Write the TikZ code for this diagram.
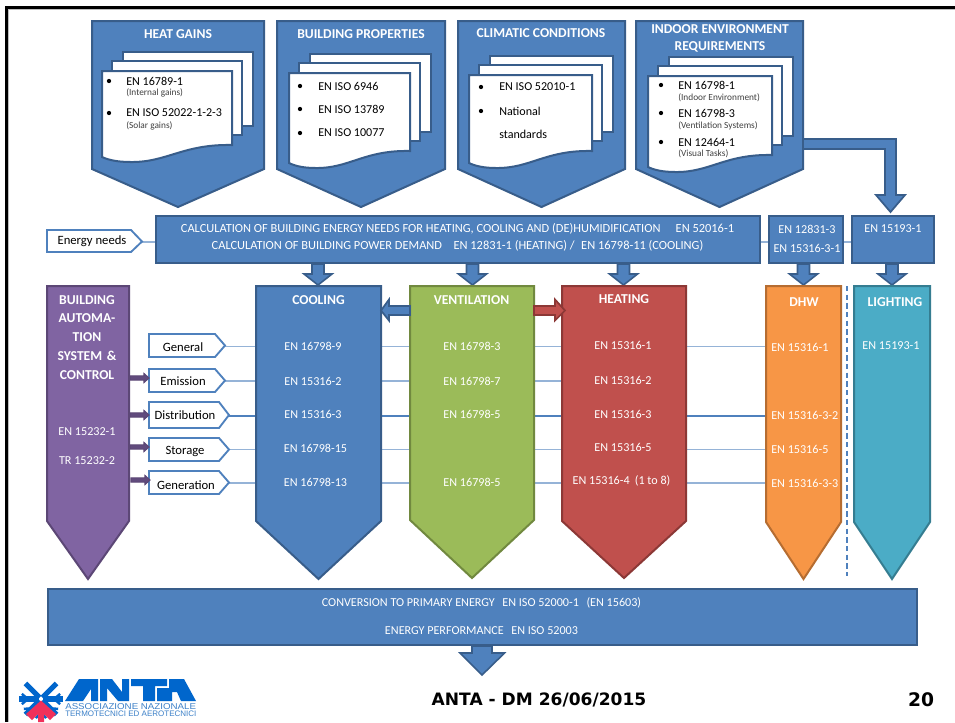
\documentclass[tikz,border=0pt]{standalone}
\usepackage{fontspec}
\setmainfont{Carlito}
\newfontfamily\footfont{DejaVu Sans}
\newfontfamily\logofont{Liberation Sans}
\definecolor{bluef}{HTML}{4F81BD}
\definecolor{blued}{HTML}{385D8A}
\definecolor{greenf}{HTML}{9BBB59}
\definecolor{greend}{HTML}{71893F}
\definecolor{redf}{HTML}{C0504D}
\definecolor{redd}{HTML}{8C3836}
\definecolor{orangef}{HTML}{F79646}
\definecolor{oranged}{HTML}{B66D31}
\definecolor{tealf}{HTML}{4BACC6}
\definecolor{teald}{HTML}{357D91}
\definecolor{purplef}{HTML}{8064A2}
\definecolor{purpled}{HTML}{5C4776}
\definecolor{linkline}{HTML}{95B3D7}
\definecolor{logob}{HTML}{0066CC}
\definecolor{logor}{HTML}{F0305A}
\definecolor{logot}{HTML}{3C80C8}
\tikzset{
 shp/.style={line width=1.5pt,line join=miter},
 bluebox/.style={shp,fill=bluef,draw=blued},
 wtxt/.style={text=white,font=\fontsize{9.1}{11}\selectfont,inner sep=0pt,align=center},
 calctxt/.style={wtxt,font=\fontsize{9.3}{11}\selectfont},
 head/.style={text=white,font=\bfseries\fontsize{10.2}{13.2}\selectfont,inner sep=0pt,align=center},
 doc/.style={fill=white,draw=blued,line width=1.5pt},
 dtxt/.style={text=black,font=\fontsize{9.05}{11}\selectfont,inner sep=0pt,anchor=west},
 dsub/.style={text=black!75,font=\fontsize{7}{8}\selectfont,inner sep=0pt,anchor=west},
 dot/.style={circle,fill=black,inner sep=0pt,minimum size=3.2pt},
 lbltxt/.style={text=black,font=\fontsize{9.5}{11}\selectfont,inner sep=0pt},
 tag/.style={fill=white,draw=bluef,line width=1.4pt},
 lnk/.style={draw=linkline,line width=1pt},
 lnkdark/.style={draw=bluef,line width=0.8pt},
}
\newcommand{\penta}[6]{\path[#6] (#1,#3) -- (#2,#3) -- (#2,#4) -- ({(#1+#2)/2},#5) -- (#1,#4) -- cycle;}
\newcommand{\darrow}[3]{\path[bluebox,line width=1.2pt] ({#1-6},#2) -- ({#1+6},#2) -- ({#1+6},{#3-11}) -- ({#1+14},{#3-11}) -- (#1,#3) -- ({#1-14},{#3-11}) -- ({#1-6},{#3-11}) -- cycle;}
\newcommand{\sheets}[4]{%
 \path[doc] ({#1+20.5},{#3-19.5}) rectangle ({#2+20.5},{#4-19.5});
 \path[doc] ({#1+10},{#3-10}) rectangle ({#2+10},{#4-10});
}
\newcommand{\front}[4]{\path[doc] (#1,#3) -- (#2,#3) -- (#2,#4) .. controls ({#1+0.62*(#2-#1)},{#4-1}) and ({#1+0.5*(#2-#1)},{#4+17.5}) .. ({#1+0.22*(#2-#1)},{#4+17}) .. controls ({#1+0.12*(#2-#1)},{#4+17}) and ({#1+0.05*(#2-#1)},{#4+15}) .. (#1,{#4+12}) -- cycle;}
\newcommand{\tagshape}[8]{\path[tag] (#1,#3) -- ({#2-10},#3) -- (#2,{(#3+#4)/2}) -- ({#2-10},#4) -- (#1,#4) -- cycle;
 \node[lbltxt] (#5) at (#7,#8) {#6};}
\newcommand{\purarrow}[3]{\path[fill=purpled!85!purplef,draw=purpled,line width=0.8pt] (#1,{#3-2.2}) -- ({#2-5},{#3-2.2}) -- ({#2-5},{#3-4.5}) -- (#2,#3) -- ({#2-5},{#3+4.5}) -- ({#2-5},{#3+2.2}) -- (#1,{#3+2.2}) -- cycle;}
\begin{document}
\begin{tikzpicture}[x=0.75pt,y=-0.75pt]
\useasboundingbox (0,0) rectangle (955,722);
\fill[white] (0,0) rectangle (955,722);
% slide frame
\fill[black!25] (8,9) rectangle (955,10);
\fill[black!25] (8,9) rectangle (9,722);
\fill[black] (5,6) rectangle (955,9);
\fill[black] (5,6) rectangle (8,722);

% thin links behind boxes
\draw[lnk] (125,242) -- (156,242);
\draw[lnk] (760,242) -- (769,242);
\draw[lnk] (843,242) -- (852,242);
\draw[lnk] (225,346.5) -- (256,346.5);
\draw[lnk] (225,381) -- (256,381);
\draw[lnkdark] (228,416) -- (256,416);
\draw[lnk] (228,449.5) -- (256,449.5);
\draw[lnk] (228,483) -- (256,483);
% top pentagons
\penta{92}{264}{21}{169}{207}{bluebox}
\penta{277}{445}{21}{169}{207}{bluebox}
\penta{458}{625}{21}{169}{207}{bluebox}
\penta{636}{803}{21}{169}{207}{bluebox}
\node[head] (h1) at (178,34) {HEAT GAINS};
\node[head] (h2) at (361,34) {BUILDING PROPERTIES};
\node[head] (h3) at (541,33) {CLIMATIC CONDITIONS};
\node[head] (h4) at (720,38.5) {INDOOR ENVIRONMENT\\REQUIREMENTS};
% sheets 1
\sheets{102}{232}{71}{145}
\front{102}{232}{71}{145}
\node[dot] (d11) at (109,81) {}; \node[dtxt] (t11) at (126,81) {EN 16789-1};
\node[dsub] (s11) at (126,93) {(Internal gains)};
\node[dot] (d12) at (109,113) {}; \node[dtxt] (t12) at (126,113) {EN ISO 52022-1-2-3};
\node[dsub] (s12) at (126,126) {(Solar gains)};
% sheets 2
\sheets{289}{410}{73}{151}
\front{289}{410}{73}{151}
\node[dot] (d21) at (300,86) {}; \node[dtxt] (t21) at (318,86) {EN ISO 6946};
\node[dot] (d22) at (300,109) {}; \node[dtxt] (t22) at (318,109) {EN ISO 13789};
\node[dot] (d23) at (300,133) {}; \node[dtxt] (t23) at (318,133) {EN ISO 10077};
% sheets 3
\sheets{469}{592}{75}{151}
\front{469}{592}{75}{151}
\node[dot] (d31) at (481,87) {}; \node[dtxt] (t31) at (499,87) {EN ISO 52010-1};
\node[dot] (d32) at (481,111) {}; \node[dtxt] (t32) at (499,111) {National};
\node[dtxt] (t33) at (499,134) {standards};
% sheets 4
\sheets{648}{772}{76}{155}
\front{648}{772}{76}{155}
\node[dot] (d41) at (661,85) {}; \node[dtxt] (t41) at (678,85) {EN 16798-1};
\node[dsub] (s41) at (678,98) {(Indoor Environment)};
\node[dot] (d42) at (661,113) {}; \node[dtxt] (t42) at (678,113) {EN 16798-3};
\node[dsub] (s42) at (678,126) {(Ventilation Systems)};
\node[dot] (d43) at (661,142) {}; \node[dtxt] (t43) at (678,142) {EN 12464-1};
\node[dsub] (s43) at (678,154) {(Visual Tasks)};
% bent arrow
\path[bluebox,line width=1.3pt] (803,139) -- (896,139) -- (896,195) -- (905,195) -- (890.5,212) -- (876,195) -- (885,195) -- (885,149) -- (803,149) -- cycle;

% energy needs tag
\path[tag] (47,230) -- (131,230) -- (142,241.5) -- (131,252) -- (47,252) -- cycle;
\node[lbltxt] (en) at (92,241.5) {Energy needs};
% calculation row
\path[bluebox] (156,216) rectangle (760,263);
\node[calctxt] (c1) at (457.5,229) {CALCULATION OF BUILDING ENERGY NEEDS FOR HEATING, COOLING AND (DE)HUMIDIFICATION\hspace{1em} EN 52016-1};
\node[calctxt] (c2) at (457.5,246) {CALCULATION OF BUILDING POWER DEMAND\hspace{0.7em} EN 12831-1 (HEATING) /\hspace{0.3em} EN 16798-11 (COOLING)};
\path[bluebox] (769,216) rectangle (843,263);
\node[wtxt] (c3) at (807,229) {EN 12831-3};
\node[wtxt] (c4) at (807,248) {EN 15316-3-1};
\path[bluebox] (852,216) rectangle (934,263);
\node[wtxt] (c5) at (893,229) {EN 15193-1};
% down arrows
\darrow{318}{264}{285}
\darrow{472.5}{264}{285}
\darrow{623.5}{264}{285}
\darrow{803.5}{264}{285}
\darrow{892}{264}{285}

% links across column gaps
\foreach \yy in {346.5,381,449.5,483}{\draw[lnk] (381,\yy) -- (410,\yy); \draw[lnk] (534,\yy) -- (562,\yy);}
\draw[lnkdark] (381,416) -- (410,416); \draw[lnkdark] (534,416) -- (562,416);
\foreach \yy in {346.5,449.5,483}{\draw[lnk] (686,\yy) -- (766,\yy);}
\draw[lnkdark] (686,416) -- (766,416);

% column pentagons
\penta{47}{129}{286}{521}{579}{shp,fill=purplef,draw=purpled}
\penta{256}{381}{286}{521}{579}{bluebox}
\penta{410}{534}{286}{520}{578}{shp,fill=greenf,draw=greend}
\penta{562}{686}{286}{521}{578}{shp,fill=redf,draw=redd}
\penta{766}{841}{286}{522}{579}{shp,fill=orangef,draw=oranged}
\penta{854}{930}{286}{522}{579}{shp,fill=tealf,draw=teald}
% between arrows
\path[fill=bluef,draw=blued,line width=1.3pt] (410,306) -- (389,306) -- (389,299.5) -- (381,310.5) -- (389,320.5) -- (389,315) -- (410,315) -- cycle;
\path[fill=redf,draw=redd,line width=1.3pt] (534,306) -- (555,306) -- (555,299.5) -- (565,310.5) -- (555,320.5) -- (555,315) -- (534,315) -- cycle;
% separator
\draw[bluef,line width=1pt,dash pattern=on 4pt off 2.5pt] (847,286) -- (847,576);

% purple column
\node[head,text width=80pt,font=\bfseries\fontsize{10.2}{14.2}\selectfont] (bac) at (87,337.5) {BUILDING\\AUTOMA-\\TION\\SYSTEM \&\\CONTROL};
\node[wtxt] (b1) at (87,432) {EN 15232-1};
\node[wtxt] (b2) at (87,461) {TR 15232-2};
% tags
\tagshape{149}{225}{334}{357}{g1}{General}{183}{347}
\tagshape{149}{225}{369}{392}{g2}{Emission}{183}{381.5}
\tagshape{149}{229}{402}{428}{g3}{Distribution}{185}{415}
\tagshape{149}{229}{438}{461}{g4}{Storage}{185}{451}
\tagshape{149}{229}{471}{494}{g5}{Generation}{186}{485}
\purarrow{130}{149}{378}
\purarrow{130}{149}{415}
\purarrow{130}{149}{447}
\purarrow{131}{150}{480}

% column headings
\node[head] (cc) at (318.5,300) {COOLING};
\node[head] (cv) at (471.5,300) {VENTILATION};
\node[head] (ch) at (624,299) {HEATING};
\node[head] (cd) at (804,302) {DHW};
\node[head] (cl) at (895,302) {LIGHTING};
% cooling
\node[wtxt] (k1) at (313,346) {EN 16798-9};
\node[wtxt] (k2) at (313,381) {EN 15316-2};
\node[wtxt] (k3) at (313,414) {EN 15316-3};
\node[wtxt] (k4) at (315.5,448) {EN 16798-15};
\node[wtxt] (k5) at (315.5,482) {EN 16798-13};
% ventilation
\node[wtxt] (v1) at (472,346) {EN 16798-3};
\node[wtxt] (v2) at (472,381) {EN 16798-7};
\node[wtxt] (v3) at (472,414) {EN 16798-5};
\node[wtxt] (v4) at (472,482) {EN 16798-5};
% heating
\node[wtxt] (r1) at (623,345) {EN 15316-1};
\node[wtxt] (r2) at (623,380) {EN 15316-2};
\node[wtxt] (r3) at (623,414) {EN 15316-3};
\node[wtxt] (r4) at (623,447) {EN 15316-5};
\node[wtxt] (r5) at (621.5,481) {EN 15316-4\hspace{0.2em} (1 to 8)};
% dhw
\node[wtxt,anchor=west] (o1) at (771,347) {EN 15316-1};
\node[wtxt,anchor=west] (o2) at (771,415) {EN 15316-3-2};
\node[wtxt,anchor=west] (o3) at (771,449) {EN 15316-5};
\node[wtxt,anchor=west] (o4) at (771,483) {EN 15316-3-3};
% lighting
\node[wtxt] (l1) at (891,346) {EN 15193-1};

% bottom bar
\path[bluebox] (47.5,589) rectangle (917,645);
\node[wtxt] (p1) at (481.5,603) {CONVERSION TO PRIMARY ENERGY\hspace{0.4em} EN ISO 52000-1\hspace{0.4em} (EN 15603)};
\node[wtxt] (p2) at (481.5,631) {ENERGY PERFORMANCE\hspace{0.4em} EN ISO 52003};
\path[bluebox,line width=1.2pt] (472,646) -- (492,646) -- (492,653) -- (504.5,653) -- (482,675) -- (460,653) -- (472,653) -- cycle;

% footer
\node[inner sep=0pt,font=\footfont\bfseries\fontsize{12.8}{14}\selectfont] (ft) at (539,700) {ANTA - DM 26/06/2015};
\node[inner sep=0pt,font=\footfont\bfseries\fontsize{14}{16}\selectfont] (pg) at (921,700) {20};

% logo star
\begin{scope}[shift={(41,699)}]
 \foreach \a in {0,45,90,135,180,225,-45}{
  \draw[color=logob,line width=3.9pt] (\a:2) -- (\a:22);
 }
 \foreach \a in {0,45,90,135,180}{
  \draw[color=logob,line width=1.8pt] (\a:13) -- ++({\a+40}:8);
  \draw[color=logob,line width=1.8pt] (\a:13) -- ++({\a-40}:8);
 }
 \fill[logor] (0,1.5) -- (15,15) -- (9,21) -- (3,15) -- (3,23) -- (-3,23) -- (-3,15) -- (-9,21) -- (-15,15) -- cycle;
\end{scope}
% logo letters
\fill[logob] (65,701) -- (79,679) -- (98,679) -- (98,701) -- (91,701) -- (91,689) -- (83,701) -- cycle;
\fill[logob] (100,701) -- (100,679) -- (112,679) -- (122,692) -- (122,679) -- (129,679) -- (129,701) -- (118,701) -- (107,688) -- (107,701) -- cycle;
\fill[logob] (131,679) -- (167,679) -- (167,686) -- (155,686) -- (155,701) -- (143,701) -- (143,686) -- (131,686) -- cycle;
\fill[logob] (157,701) -- (157,688) -- (169,688) -- (169,679) -- (184,679) -- (196,701) -- (181,701) -- (177,692) -- (172,692) -- (172,701) -- cycle;
\node[inner sep=0pt,anchor=west,text=logot,font=\logofont\fontsize{6.4}{6.4}\selectfont] (lg1) at (65,706.5) {\scalebox{1.14}[1]{ASSOCIAZIONE NAZIONALE}};
\node[inner sep=0pt,anchor=west,text=logot,font=\logofont\fontsize{6.0}{6.4}\selectfont] (lg2) at (65,714) {TERMOTECNICI ED AEROTECNICI};
\end{tikzpicture}
\end{document}
